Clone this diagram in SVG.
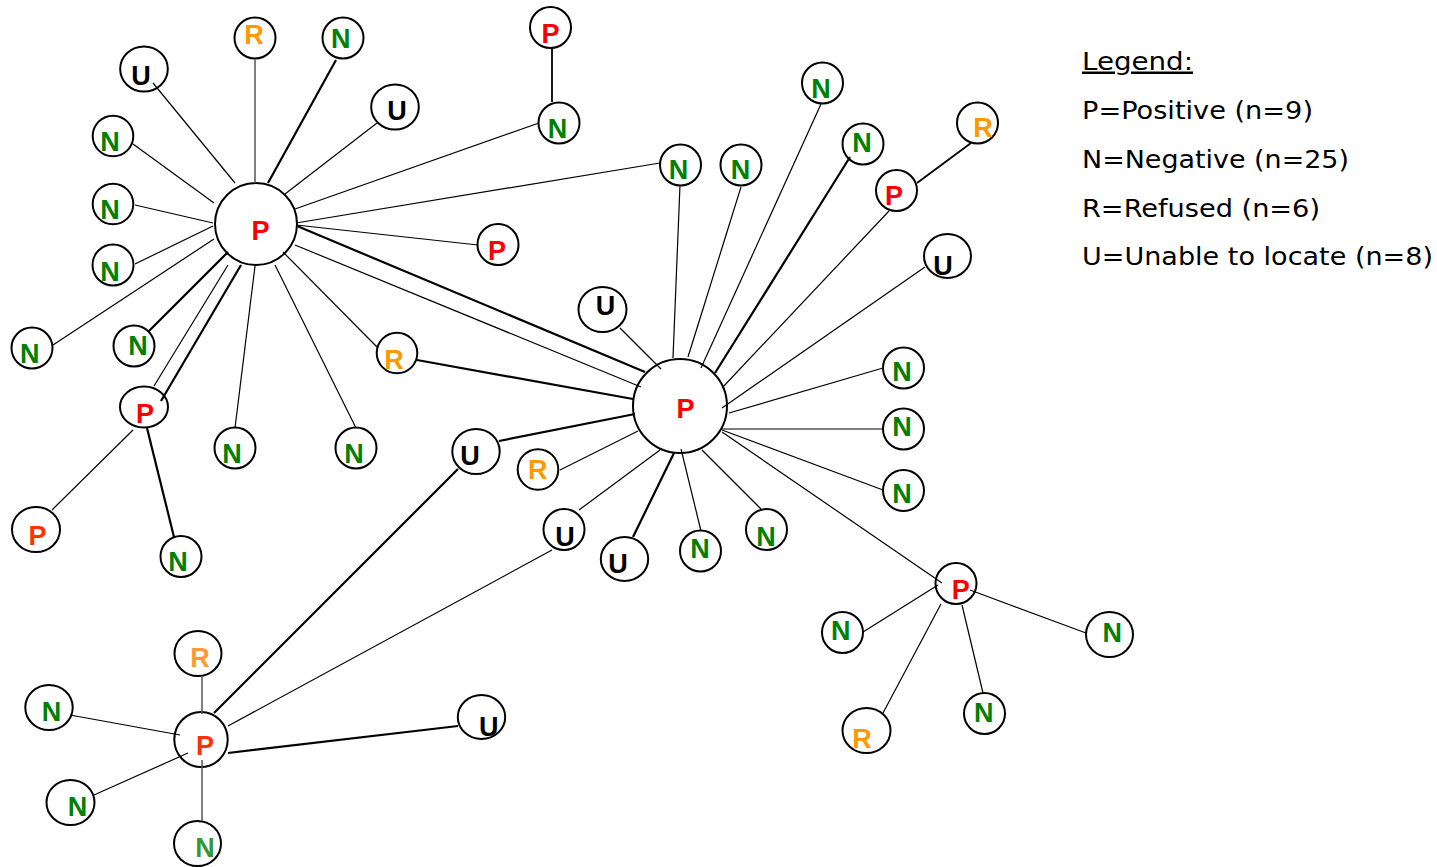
<svg xmlns="http://www.w3.org/2000/svg" width="1437" height="867" viewBox="0 0 1437 867">
<style>
.nd{fill:#fff;stroke:#000;stroke-width:2}
.lb{font-family:"Liberation Sans",Arial,sans-serif;font-weight:bold;font-size:27px;text-anchor:middle}
.p{fill:#ff0000}.p2{fill:#ff3300}.n{fill:#008000}.n2{fill:#339933}.r{fill:#ff9900}.r2{fill:#ff9933}.u{fill:#000}
.c line{stroke:#000;stroke-width:1.2;fill:none}
.c line.t{stroke-width:2.2}
.c line.m{stroke-width:1.8}
.c line.g{stroke:#555;stroke-width:1.5}
.lg{font-family:"DejaVu Sans",Verdana,sans-serif;font-size:25px;fill:#000}
</style>
<rect width="1437" height="867" fill="#fff"/>
<g id="hub1"><circle class="nd" cx="256" cy="224" r="41"/><text class="lb p" x="260.5" y="239.5">P</text></g>
<g id="u1"><ellipse class="nd" cx="144" cy="69" rx="23.8" ry="22.5"/><text class="lb u" x="141" y="84.5">U</text></g>
<g id="r1"><circle class="nd" cx="255" cy="38" r="20.5"/><text class="lb r" x="254" y="44.2">R</text></g>
<g id="n1"><circle class="nd" cx="343" cy="38" r="20.5"/><text class="lb n" x="340.7" y="48.3">N</text></g>
<g id="u2"><ellipse class="nd" cx="395" cy="107" rx="23.8" ry="22.5"/><text class="lb u" x="397" y="120.3">U</text></g>
<g id="n2"><circle class="nd" cx="113" cy="136" r="20.3"/><text class="lb n" x="110" y="151.2">N</text></g>
<g id="n3"><circle class="nd" cx="113" cy="204" r="20.3"/><text class="lb n" x="110" y="219.2">N</text></g>
<g id="n4"><circle class="nd" cx="113" cy="265" r="20.5"/><text class="lb n" x="110" y="280.5">N</text></g>
<g id="n5"><circle class="nd" cx="32" cy="348" r="20.5"/><text class="lb n" x="29.7" y="362.5">N</text></g>
<g id="n6"><circle class="nd" cx="134" cy="346" r="20.5"/><text class="lb n" x="138" y="354.5">N</text></g>
<g id="p2"><ellipse class="nd" cx="144" cy="407" rx="24" ry="20.5"/><text class="lb p" x="145" y="423.2">P</text></g>
<g id="n7"><circle class="nd" cx="235" cy="448" r="20.5"/><text class="lb n" x="232" y="463">N</text></g>
<g id="n8"><circle class="nd" cx="356" cy="448" r="20.5"/><text class="lb n" x="354" y="463">N</text></g>
<g id="r2"><circle class="nd" cx="397" cy="353" r="20.3"/><text class="lb r" x="394" y="368.7">R</text></g>
<g id="p3"><ellipse class="nd" cx="36" cy="529.5" rx="24" ry="22.5"/><text class="lb p2" x="37.5" y="545">P</text></g>
<g id="n9"><circle class="nd" cx="181" cy="556.5" r="20.5"/><text class="lb n" x="178" y="571.2">N</text></g>
<g id="p4"><circle class="nd" cx="498" cy="244.5" r="20.5"/><text class="lb p" x="497" y="259.5">P</text></g>
<g id="p5"><circle class="nd" cx="550.5" cy="27.5" r="20.5"/><text class="lb p" x="550.4" y="42.5">P</text></g>
<g id="n10"><circle class="nd" cx="559" cy="123" r="20.5"/><text class="lb n" x="557.5" y="137.8">N</text></g>
<g id="n11"><circle class="nd" cx="680.5" cy="165" r="20.5"/><text class="lb n" x="678.4" y="178.5">N</text></g>
<g id="n12"><circle class="nd" cx="741" cy="165" r="20.5"/><text class="lb n" x="740.5" y="178.5">N</text></g>
<g id="n13"><circle class="nd" cx="822.5" cy="83" r="20.5"/><text class="lb n" x="821" y="98.2">N</text></g>
<g id="n14"><circle class="nd" cx="863" cy="144" r="20.5"/><text class="lb n" x="862" y="152">N</text></g>
<g id="r3"><circle class="nd" cx="977.5" cy="123" r="20.5"/><text class="lb r" x="983" y="136.5">R</text></g>
<g id="p6"><circle class="nd" cx="896.5" cy="190.5" r="20.5"/><text class="lb p" x="894" y="204.5">P</text></g>
<g id="u3"><ellipse class="nd" cx="947.5" cy="256" rx="23.5" ry="22"/><text class="lb u" x="943" y="274.5">U</text></g>
<g id="u4"><ellipse class="nd" cx="602.5" cy="309.5" rx="24" ry="22.5"/><text class="lb u" x="605.5" y="314.5">U</text></g>
<g id="hub2"><circle class="nd" cx="680" cy="406" r="47"/><text class="lb p" x="685.5" y="417.8">P</text></g>
<g id="n15"><circle class="nd" cx="903.5" cy="368" r="20.5"/><text class="lb n" x="902" y="381.2">N</text></g>
<g id="n16"><circle class="nd" cx="903.5" cy="429" r="20.5"/><text class="lb n" x="902" y="435.8">N</text></g>
<g id="n17"><circle class="nd" cx="903.5" cy="490.5" r="20.5"/><text class="lb n" x="902" y="503.2">N</text></g>
<g id="u5"><ellipse class="nd" cx="476" cy="451.5" rx="23.7" ry="22.5"/><text class="lb u" x="470" y="464.5">U</text></g>
<g id="r4"><circle class="nd" cx="538" cy="469.5" r="20.3"/><text class="lb r" x="537.7" y="478.5">R</text></g>
<g id="u6"><circle class="nd" cx="564" cy="529.5" r="20.5"/><text class="lb u" x="565" y="545.5">U</text></g>
<g id="u7"><ellipse class="nd" cx="624.5" cy="559" rx="23.7" ry="22"/><text class="lb u" x="618" y="572.5">U</text></g>
<g id="n18"><circle class="nd" cx="700.5" cy="551" r="20.5"/><text class="lb n" x="700" y="558">N</text></g>
<g id="n19"><circle class="nd" cx="766.5" cy="529.5" r="20.5"/><text class="lb n" x="766" y="545.5">N</text></g>
<g id="p7"><circle class="nd" cx="956" cy="583.5" r="20.5"/><text class="lb p" x="960.8" y="598.8">P</text></g>
<g id="n20"><circle class="nd" cx="842.5" cy="632.5" r="20.5"/><text class="lb n" x="840.7" y="640.3">N</text></g>
<g id="n21"><ellipse class="nd" cx="1109.5" cy="634.5" rx="23.5" ry="22.5"/><text class="lb n" x="1112.3" y="641.8">N</text></g>
<g id="n22"><circle class="nd" cx="984.5" cy="713.5" r="20.5"/><text class="lb n" x="983.7" y="721.5">N</text></g>
<g id="r5"><ellipse class="nd" cx="866.5" cy="730.5" rx="24" ry="22.5"/><text class="lb r" x="862" y="748">R</text></g>
<g id="r6"><ellipse class="nd" cx="198" cy="653.5" rx="23.5" ry="22.5"/><text class="lb r2" x="200" y="667">R</text></g>
<g id="n23"><ellipse class="nd" cx="49" cy="707.5" rx="23.7" ry="22.5"/><text class="lb n" x="51.4" y="721.2">N</text></g>
<g id="p8"><ellipse class="nd" cx="201" cy="739.5" rx="26.7" ry="27.5"/><text class="lb p2" x="205" y="755.3">P</text></g>
<g id="u8"><ellipse class="nd" cx="481.5" cy="717" rx="23.7" ry="22"/><text class="lb u" x="488.7" y="735.5">U</text></g>
<g id="n24"><ellipse class="nd" cx="70.5" cy="802.5" rx="24" ry="22.5"/><text class="lb n" x="77.5" y="816.2">N</text></g>
<g id="n25"><ellipse class="nd" cx="197.5" cy="843.5" rx="23.5" ry="22.5"/><text class="lb n2" x="205" y="857.3">N</text></g>
<g id="connectors" class="c">
<line x1="153" y1="83" x2="235" y2="183"/>
<line class="g" x1="255" y1="59" x2="255" y2="183"/>
<line class="t" x1="336" y1="60" x2="268" y2="183"/>
<line x1="377" y1="123" x2="285" y2="194"/>
<line x1="133" y1="144" x2="214" y2="203"/>
<line x1="135" y1="205" x2="213" y2="223"/>
<line x1="135" y1="264" x2="213" y2="226"/>
<line x1="53" y1="345" x2="214" y2="239"/>
<line class="t" x1="148" y1="332" x2="228" y2="252"/>
<line x1="154" y1="386" x2="228" y2="265"/>
<line class="t" x1="161" y1="401" x2="241" y2="265"/>
<line x1="235" y1="428" x2="255" y2="266"/>
<line x1="356" y1="428" x2="275" y2="265"/>
<line x1="377" y1="347" x2="283" y2="252"/>
<line x1="539" y1="123" x2="295" y2="209"/>
<line x1="660" y1="163" x2="296" y2="223"/>
<line x1="478" y1="245" x2="296" y2="225"/>
<line class="t" x1="297" y1="226" x2="645" y2="372"/>
<line x1="295" y1="245" x2="641" y2="387"/>
<line x1="620" y1="328" x2="661" y2="369"/>
<line class="t" x1="417" y1="360" x2="633" y2="399"/>
<line class="t" x1="499" y1="441" x2="635" y2="414"/>
<line x1="560" y1="470" x2="638" y2="431"/>
<line x1="579" y1="510" x2="660" y2="450"/>
<line class="t" x1="633" y1="537" x2="674" y2="453"/>
<line x1="701" y1="531" x2="681" y2="449"/>
<line x1="761" y1="509" x2="702" y2="450"/>
<line x1="883" y1="490" x2="722" y2="430"/>
<line x1="883" y1="429" x2="722" y2="429"/>
<line x1="883" y1="368" x2="729" y2="413"/>
<line x1="722" y1="432" x2="942" y2="583"/>
<line x1="925" y1="267" x2="722" y2="408"/>
<line x1="889" y1="211" x2="722" y2="388"/>
<line class="t" x1="850" y1="157" x2="715" y2="373"/>
<line x1="821" y1="104" x2="701" y2="368"/>
<line x1="741" y1="187" x2="688" y2="357"/>
<line x1="680" y1="185" x2="673" y2="358"/>
<line class="m" x1="552" y1="48" x2="552" y2="102"/>
<line class="m" x1="917" y1="183" x2="971" y2="143"/>
<line x1="133" y1="430" x2="52" y2="510"/>
<line class="t" x1="147" y1="428" x2="174" y2="537"/>
<line class="t" x1="458" y1="469" x2="214" y2="713"/>
<line x1="552" y1="550" x2="228" y2="726"/>
<line class="t" x1="228" y1="753" x2="458" y2="726"/>
<line class="g" x1="202" y1="676" x2="202" y2="714"/>
<line x1="70" y1="715" x2="180" y2="735"/>
<line x1="94" y1="795" x2="188" y2="753"/>
<line class="g" x1="202" y1="760" x2="202" y2="821"/>
<line x1="863" y1="632" x2="938" y2="585"/>
<line x1="883" y1="713" x2="941" y2="604"/>
<line x1="983" y1="693" x2="962" y2="605"/>
<line x1="1086" y1="633" x2="970" y2="590"/>
</g>
<g id="legend">
<text class="lg" x="1082" y="69.5" textLength="111" lengthAdjust="spacingAndGlyphs" text-decoration="underline">Legend:</text>
<text class="lg" x="1082" y="118.5" textLength="231" lengthAdjust="spacingAndGlyphs">P=Positive (n=9)</text>
<text class="lg" x="1082" y="167.5" textLength="267" lengthAdjust="spacingAndGlyphs">N=Negative (n=25)</text>
<text class="lg" x="1082" y="216.5" textLength="238" lengthAdjust="spacingAndGlyphs">R=Refused (n=6)</text>
<text class="lg" x="1082" y="265" textLength="351" lengthAdjust="spacingAndGlyphs">U=Unable to locate (n=8)</text>
</g>
</svg>
